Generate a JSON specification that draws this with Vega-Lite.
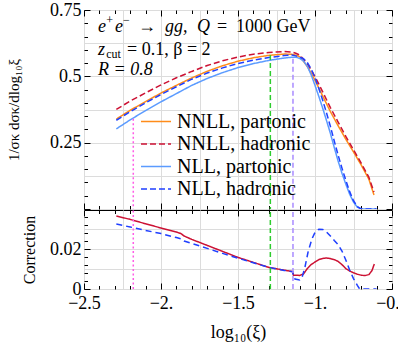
{
  "$schema": "https://vega.github.io/schema/vega-lite/v6.json",
  "padding": {"left": 6, "top": 0, "right": -11, "bottom": 0},
  "spacing": 1,
  "bounds": "flush",
  "config": {
    "font": "Liberation Serif",
    "view": {"stroke": "black", "strokeWidth": 1},
    "axis": {"labelFont": "Liberation Serif", "titleFont": "Liberation Serif", "labelColor": "black", "titleColor": "black", "titleFontWeight": "normal", "tickColor": "black", "tickWidth": 1, "labelOverlap": false, "labelFlush": false}
  },
  "datasets": {
    "top": [
      {"x": -2.29, "y": 0.339, "series": "NNLL, partonic"}, {"x": -2.2, "y": 0.372, "series": "NNLL, partonic"}, {"x": -2.1, "y": 0.405, "series": "NNLL, partonic"}, {"x": -2.0, "y": 0.437, "series": "NNLL, partonic"}, {"x": -1.9, "y": 0.466, "series": "NNLL, partonic"}, {"x": -1.8, "y": 0.494, "series": "NNLL, partonic"}, {"x": -1.7, "y": 0.519, "series": "NNLL, partonic"}, {"x": -1.6, "y": 0.54, "series": "NNLL, partonic"}, {"x": -1.5, "y": 0.557, "series": "NNLL, partonic"}, {"x": -1.4, "y": 0.57, "series": "NNLL, partonic"}, {"x": -1.3, "y": 0.579, "series": "NNLL, partonic"}, {"x": -1.2, "y": 0.584, "series": "NNLL, partonic"}, {"x": -1.15, "y": 0.583, "series": "NNLL, partonic"}, {"x": -1.125, "y": 0.58, "series": "NNLL, partonic"}, {"x": -1.1, "y": 0.574, "series": "NNLL, partonic"}, {"x": -1.075, "y": 0.557, "series": "NNLL, partonic"}, {"x": -1.05, "y": 0.537, "series": "NNLL, partonic"}, {"x": -1.025, "y": 0.512, "series": "NNLL, partonic"}, {"x": -1.0, "y": 0.485, "series": "NNLL, partonic"}, {"x": -0.975, "y": 0.456, "series": "NNLL, partonic"}, {"x": -0.95, "y": 0.426, "series": "NNLL, partonic"}, {"x": -0.9, "y": 0.367, "series": "NNLL, partonic"}, {"x": -0.85, "y": 0.314, "series": "NNLL, partonic"}, {"x": -0.8, "y": 0.263, "series": "NNLL, partonic"}, {"x": -0.75, "y": 0.215, "series": "NNLL, partonic"}, {"x": -0.7, "y": 0.166, "series": "NNLL, partonic"}, {"x": -0.65, "y": 0.112, "series": "NNLL, partonic"}, {"x": -0.617, "y": 0.053, "series": "NNLL, partonic"},
      {"x": -2.29, "y": 0.3755, "series": "NNLL, hadronic"}, {"x": -2.2, "y": 0.4068, "series": "NNLL, hadronic"}, {"x": -2.1, "y": 0.4376, "series": "NNLL, hadronic"}, {"x": -2.0, "y": 0.4675, "series": "NNLL, hadronic"}, {"x": -1.9, "y": 0.4945, "series": "NNLL, hadronic"}, {"x": -1.8, "y": 0.5185, "series": "NNLL, hadronic"}, {"x": -1.7, "y": 0.5408, "series": "NNLL, hadronic"}, {"x": -1.6, "y": 0.5588, "series": "NNLL, hadronic"}, {"x": -1.5, "y": 0.5728, "series": "NNLL, hadronic"}, {"x": -1.4, "y": 0.5833, "series": "NNLL, hadronic"}, {"x": -1.3, "y": 0.5898, "series": "NNLL, hadronic"}, {"x": -1.2, "y": 0.5934, "series": "NNLL, hadronic"}, {"x": -1.15, "y": 0.5917, "series": "NNLL, hadronic"}, {"x": -1.125, "y": 0.5868, "series": "NNLL, hadronic"}, {"x": -1.1, "y": 0.5808, "series": "NNLL, hadronic"}, {"x": -1.075, "y": 0.5645, "series": "NNLL, hadronic"}, {"x": -1.05, "y": 0.5475, "series": "NNLL, hadronic"}, {"x": -1.025, "y": 0.524, "series": "NNLL, hadronic"}, {"x": -1.0, "y": 0.4988, "series": "NNLL, hadronic"}, {"x": -0.975, "y": 0.4708, "series": "NNLL, hadronic"}, {"x": -0.95, "y": 0.4413, "series": "NNLL, hadronic"}, {"x": -0.9, "y": 0.3822, "series": "NNLL, hadronic"}, {"x": -0.85, "y": 0.3278, "series": "NNLL, hadronic"}, {"x": -0.8, "y": 0.2735, "series": "NNLL, hadronic"}, {"x": -0.75, "y": 0.2233, "series": "NNLL, hadronic"}, {"x": -0.7, "y": 0.1728, "series": "NNLL, hadronic"}, {"x": -0.65, "y": 0.1192, "series": "NNLL, hadronic"}, {"x": -0.617, "y": 0.064, "series": "NNLL, hadronic"},
      {"x": -2.29, "y": 0.302, "series": "NLL, partonic"}, {"x": -2.2, "y": 0.336, "series": "NLL, partonic"}, {"x": -2.1, "y": 0.371, "series": "NLL, partonic"}, {"x": -2.0, "y": 0.404, "series": "NLL, partonic"}, {"x": -1.9, "y": 0.435, "series": "NLL, partonic"}, {"x": -1.8, "y": 0.466, "series": "NLL, partonic"}, {"x": -1.7, "y": 0.492, "series": "NLL, partonic"}, {"x": -1.6, "y": 0.514, "series": "NLL, partonic"}, {"x": -1.5, "y": 0.533, "series": "NLL, partonic"}, {"x": -1.4, "y": 0.548, "series": "NLL, partonic"}, {"x": -1.3, "y": 0.56, "series": "NLL, partonic"}, {"x": -1.2, "y": 0.569, "series": "NLL, partonic"}, {"x": -1.15, "y": 0.572, "series": "NLL, partonic"}, {"x": -1.125, "y": 0.572, "series": "NLL, partonic"}, {"x": -1.1, "y": 0.568, "series": "NLL, partonic"}, {"x": -1.075, "y": 0.558, "series": "NLL, partonic"}, {"x": -1.05, "y": 0.538, "series": "NLL, partonic"}, {"x": -1.025, "y": 0.506, "series": "NLL, partonic"}, {"x": -1.0, "y": 0.466, "series": "NLL, partonic"}, {"x": -0.975, "y": 0.424, "series": "NLL, partonic"}, {"x": -0.95, "y": 0.38, "series": "NLL, partonic"}, {"x": -0.925, "y": 0.333, "series": "NLL, partonic"}, {"x": -0.9, "y": 0.285, "series": "NLL, partonic"}, {"x": -0.875, "y": 0.232, "series": "NLL, partonic"}, {"x": -0.85, "y": 0.181, "series": "NLL, partonic"}, {"x": -0.825, "y": 0.135, "series": "NLL, partonic"}, {"x": -0.8, "y": 0.094, "series": "NLL, partonic"}, {"x": -0.775, "y": 0.056, "series": "NLL, partonic"}, {"x": -0.75, "y": 0.026, "series": "NLL, partonic"}, {"x": -0.725, "y": 0.007, "series": "NLL, partonic"}, {"x": -0.7, "y": 0.0, "series": "NLL, partonic"}, {"x": -0.65, "y": 0.0, "series": "NLL, partonic"}, {"x": -0.6, "y": 0.0, "series": "NLL, partonic"},
      {"x": -2.29, "y": 0.3345, "series": "NLL, hadronic"}, {"x": -2.2, "y": 0.367, "series": "NLL, hadronic"}, {"x": -2.1, "y": 0.4003, "series": "NLL, hadronic"}, {"x": -2.0, "y": 0.4317, "series": "NLL, hadronic"}, {"x": -1.9, "y": 0.4607, "series": "NLL, hadronic"}, {"x": -1.8, "y": 0.4892, "series": "NLL, hadronic"}, {"x": -1.7, "y": 0.5125, "series": "NLL, hadronic"}, {"x": -1.6, "y": 0.532, "series": "NLL, hadronic"}, {"x": -1.5, "y": 0.5485, "series": "NLL, hadronic"}, {"x": -1.4, "y": 0.5611, "series": "NLL, hadronic"}, {"x": -1.3, "y": 0.5708, "series": "NLL, hadronic"}, {"x": -1.2, "y": 0.5783, "series": "NLL, hadronic"}, {"x": -1.15, "y": 0.5807, "series": "NLL, hadronic"}, {"x": -1.125, "y": 0.5772, "series": "NLL, hadronic"}, {"x": -1.1, "y": 0.5725, "series": "NLL, hadronic"}, {"x": -1.075, "y": 0.5665, "series": "NLL, hadronic"}, {"x": -1.05, "y": 0.552, "series": "NLL, hadronic"}, {"x": -1.025, "y": 0.528, "series": "NLL, hadronic"}, {"x": -1.0, "y": 0.4943, "series": "NLL, hadronic"}, {"x": -0.975, "y": 0.4539, "series": "NLL, hadronic"}, {"x": -0.95, "y": 0.4098, "series": "NLL, hadronic"}, {"x": -0.925, "y": 0.3615, "series": "NLL, hadronic"}, {"x": -0.9, "y": 0.3115, "series": "NLL, hadronic"}, {"x": -0.875, "y": 0.2563, "series": "NLL, hadronic"}, {"x": -0.85, "y": 0.2032, "series": "NLL, hadronic"}, {"x": -0.825, "y": 0.154, "series": "NLL, hadronic"}, {"x": -0.8, "y": 0.1085, "series": "NLL, hadronic"}, {"x": -0.775, "y": 0.0655, "series": "NLL, hadronic"}, {"x": -0.75, "y": 0.0312, "series": "NLL, hadronic"}, {"x": -0.725, "y": 0.0088, "series": "NLL, hadronic"}, {"x": -0.7, "y": 0.0, "series": "NLL, hadronic"}, {"x": -0.6, "y": 0.0, "series": "NLL, hadronic"}
    ],
    "corr": [
      {"x": -2.29, "y": 0.0365, "series": "NNLL"}, {"x": -2.2, "y": 0.0348, "series": "NNLL"}, {"x": -2.1, "y": 0.0326, "series": "NNLL"}, {"x": -2.0, "y": 0.0305, "series": "NNLL"}, {"x": -1.9, "y": 0.0285, "series": "NNLL"}, {"x": -1.87, "y": 0.0277, "series": "NNLL"}, {"x": -1.85, "y": 0.0265, "series": "NNLL"}, {"x": -1.8, "y": 0.0248, "series": "NNLL"}, {"x": -1.7, "y": 0.0218, "series": "NNLL"}, {"x": -1.6, "y": 0.0188, "series": "NNLL"}, {"x": -1.5, "y": 0.0158, "series": "NNLL"}, {"x": -1.4, "y": 0.0133, "series": "NNLL"}, {"x": -1.3, "y": 0.0108, "series": "NNLL"}, {"x": -1.2, "y": 0.0094, "series": "NNLL"}, {"x": -1.145, "y": 0.0087, "series": "NNLL"}, {"x": -1.14, "y": 0.0069, "series": "NNLL"}, {"x": -1.1, "y": 0.0068, "series": "NNLL"}, {"x": -1.075, "y": 0.0075, "series": "NNLL"}, {"x": -1.05, "y": 0.0102, "series": "NNLL"}, {"x": -1.025, "y": 0.0122, "series": "NNLL"}, {"x": -1.0, "y": 0.0135, "series": "NNLL"}, {"x": -0.975, "y": 0.0147, "series": "NNLL"}, {"x": -0.95, "y": 0.0153, "series": "NNLL"}, {"x": -0.925, "y": 0.0155, "series": "NNLL"}, {"x": -0.9, "y": 0.0152, "series": "NNLL"}, {"x": -0.875, "y": 0.0147, "series": "NNLL"}, {"x": -0.85, "y": 0.0138, "series": "NNLL"}, {"x": -0.825, "y": 0.0122, "series": "NNLL"}, {"x": -0.8, "y": 0.0102, "series": "NNLL"}, {"x": -0.775, "y": 0.009, "series": "NNLL"}, {"x": -0.75, "y": 0.0081, "series": "NNLL"}, {"x": -0.725, "y": 0.0074, "series": "NNLL"}, {"x": -0.7, "y": 0.0069, "series": "NNLL"}, {"x": -0.675, "y": 0.0067, "series": "NNLL"}, {"x": -0.65, "y": 0.0072, "series": "NNLL"}, {"x": -0.63, "y": 0.0092, "series": "NNLL"}, {"x": -0.615, "y": 0.0125, "series": "NNLL"},
      {"x": -2.29, "y": 0.0325, "series": "NLL"}, {"x": -2.2, "y": 0.031, "series": "NLL"}, {"x": -2.1, "y": 0.0293, "series": "NLL"}, {"x": -2.0, "y": 0.0277, "series": "NLL"}, {"x": -1.9, "y": 0.0257, "series": "NLL"}, {"x": -1.87, "y": 0.0251, "series": "NLL"}, {"x": -1.85, "y": 0.024, "series": "NLL"}, {"x": -1.8, "y": 0.0228, "series": "NLL"}, {"x": -1.7, "y": 0.0203, "series": "NLL"}, {"x": -1.6, "y": 0.0178, "series": "NLL"}, {"x": -1.5, "y": 0.0154, "series": "NLL"}, {"x": -1.4, "y": 0.0131, "series": "NLL"}, {"x": -1.3, "y": 0.0108, "series": "NLL"}, {"x": -1.2, "y": 0.0093, "series": "NLL"}, {"x": -1.145, "y": 0.0086, "series": "NLL"}, {"x": -1.14, "y": 0.0062, "series": "NLL"}, {"x": -1.13, "y": 0.005, "series": "NLL"}, {"x": -1.1, "y": 0.0045, "series": "NLL"}, {"x": -1.085, "y": 0.0055, "series": "NLL"}, {"x": -1.065, "y": 0.011, "series": "NLL"}, {"x": -1.045, "y": 0.0185, "series": "NLL"}, {"x": -1.02, "y": 0.025, "series": "NLL"}, {"x": -1.0, "y": 0.0283, "series": "NLL"}, {"x": -0.975, "y": 0.0299, "series": "NLL"}, {"x": -0.95, "y": 0.0298, "series": "NLL"}, {"x": -0.925, "y": 0.0285, "series": "NLL"}, {"x": -0.9, "y": 0.0265, "series": "NLL"}, {"x": -0.875, "y": 0.0243, "series": "NLL"}, {"x": -0.85, "y": 0.0222, "series": "NLL"}, {"x": -0.825, "y": 0.019, "series": "NLL"}, {"x": -0.8, "y": 0.0145, "series": "NLL"}, {"x": -0.775, "y": 0.0095, "series": "NLL"}, {"x": -0.75, "y": 0.0052, "series": "NLL"}, {"x": -0.725, "y": 0.0018, "series": "NLL"}, {"x": -0.71, "y": 0.0, "series": "NLL"}, {"x": -0.6, "y": 0.0, "series": "NLL"}
    ],
    "rules": [
      {"x": -2.18, "top": 0.34, "name": "pink"},
      {"x": -1.29, "top": 0.58, "name": "green"},
      {"x": -1.143, "top": 0.566, "name": "purple"}
    ],
    "notes": [
      {"x": -2.409, "y": 0.667, "text": "e"},
      {"x": -2.299, "y": 0.667, "text": "e"},
      {"x": -1.974, "y": 0.667, "text": "gg,"},
      {"x": -1.766, "y": 0.667, "text": "Q"},
      {"x": -2.409, "y": 0.581, "text": "z"},
      {"x": -2.409, "y": 0.505, "text": "R = 0.8"}
    ],
    "upright": [
      {"x": -2.149, "y": 0.667, "text": "→"},
      {"x": -1.636, "y": 0.667, "text": "="},
      {"x": -1.513, "y": 0.667, "text": "1000 GeV"},
      {"x": -2.22, "y": 0.581, "text": "= 0.1, β = 2"}
    ],
    "subs": [
      {"x": -2.356, "y": 0.697, "text": "+"},
      {"x": -2.246, "y": 0.697, "text": "−"},
      {"x": -2.356, "y": 0.57, "text": "cut"}
    ]
  },
  "vconcat": [
    {
      "width": 308,
      "height": 199,
      "layer": [
        {
          "data": {"name": "top"},
          "mark": {"type": "line", "strokeWidth": 1.5, "clip": true},
          "encoding": {
            "x": {"field": "x", "type": "quantitative", "scale": {"domain": [-2.5, -0.5], "nice": false, "zero": false},
              "axis": {"orient": "bottom", "title": null, "domain": false, "labels": false,
                "values": [-2.5,-2.4,-2.3,-2.25,-2.2,-2.1,-2,-1.9,-1.8,-1.75,-1.7,-1.6,-1.5,-1.4,-1.3,-1.25,-1.2,-1.1,-1,-0.9,-0.8,-0.75,-0.7,-0.6,-0.5],
                "grid": true, "gridColor": "#dcdcdc",
                "gridOpacity": {"condition": {"test": "abs(datum.value*4-round(datum.value*4))<0.001", "value": 1}, "value": 0},
                "tickOpacity": {"condition": {"test": "abs(datum.value*10-round(datum.value*10))<0.001", "value": 1}, "value": 0},
                "tickSize": {"condition": {"test": "abs(datum.value*2-round(datum.value*2))<0.001", "value": -6}, "value": -3.5}}},
            "y": {"field": "y", "type": "quantitative", "scale": {"domain": [0, 0.75], "nice": false, "zero": false},
              "axis": {"orient": "left", "domain": false, "title": "1/σκ dσκ/dlog₁₀ξ", "titleFontSize": 15, "titlePadding": 28,
                "values": [0,0.05,0.1,0.125,0.15,0.2,0.25,0.3,0.35,0.375,0.4,0.45,0.5,0.55,0.6,0.625,0.65,0.7,0.75],
                "grid": true, "gridColor": "#dcdcdc",
                "gridOpacity": {"condition": {"test": "abs(datum.value*8-round(datum.value*8))<0.001", "value": 1}, "value": 0},
                "tickOpacity": {"condition": {"test": "abs(datum.value*20-round(datum.value*20))<0.001", "value": 1}, "value": 0},
                "tickSize": {"condition": {"test": "abs(datum.value*4-round(datum.value*4))<0.001", "value": -6}, "value": -3.5},
                "labelExpr": "abs(datum.value-0.25)<0.001 ? '0.25' : abs(datum.value-0.5)<0.001 ? '0.5' : abs(datum.value-0.75)<0.001 ? '0.75' : ''",
                "labelFontSize": 18, "labelPadding": 9}},
            "color": {"field": "series", "type": "nominal",
              "scale": {"domain": ["NNLL, partonic", "NNLL, hadronic", "NLL, partonic", "NLL, hadronic"], "range": ["#ff8c1a", "#cc1133", "#5b9bff", "#1f3fff"]},
              "legend": {"orient": "none", "legendX": 56, "legendY": 103, "title": null, "padding": 0, "symbolType": "stroke", "symbolSize": 900, "symbolStrokeWidth": 1.5, "clipHeight": 17, "rowPadding": 1.5, "labelOffset": 5, "labelFont": "Liberation Serif", "labelFontSize": 20, "labelColor": "black",
                "encode": {"symbols": {"update": {"strokeDash": {"signal": "indexof(datum.value, 'hadronic') >= 0 ? [6, 3] : [1, 0]"}}}}}},
            "strokeDash": {"field": "series", "type": "nominal",
              "scale": {"domain": ["NNLL, partonic", "NNLL, hadronic", "NLL, partonic", "NLL, hadronic"], "range": [[1, 0], [6, 3], [1, 0], [6, 3]]},
              "legend": null}
          }
        },
        {
          "data": {"name": "rules"},
          "mark": {"type": "rule", "strokeWidth": 1.5},
          "encoding": {
            "x": {"field": "x", "type": "quantitative",
              "axis": {"orient": "top", "title": null, "domain": false, "labels": false, "grid": false,
                "values": [-2.5,-2.4,-2.3,-2.2,-2.1,-2,-1.9,-1.8,-1.7,-1.6,-1.5,-1.4,-1.3,-1.2,-1.1,-1,-0.9,-0.8,-0.7,-0.6,-0.5],
                "tickSize": {"condition": {"test": "abs(datum.value*2-round(datum.value*2))<0.001", "value": -6}, "value": -3.5}}},
            "y": {"field": "top", "type": "quantitative",
              "axis": {"orient": "right", "title": null, "domain": false, "labels": false, "grid": false,
                "values": [0,0.05,0.1,0.15,0.2,0.25,0.3,0.35,0.4,0.45,0.5,0.55,0.6,0.65,0.7,0.75],
                "tickSize": {"condition": {"test": "abs(datum.value*4-round(datum.value*4))<0.001", "value": -6}, "value": -3.5}}},
            "y2": {"datum": 0},
            "stroke": {"field": "name", "type": "nominal", "scale": {"domain": ["pink", "green", "purple"], "range": ["#ff5ce6", "#2ecc2e", "#a98bff"]}, "legend": null},
            "strokeDash": {"field": "name", "type": "nominal", "scale": {"domain": ["pink", "green", "purple"], "range": [[2, 2.5], [5, 3], [5, 3]]}, "legend": null}
          }
        },
        {
          "data": {"name": "notes"},
          "mark": {"type": "text", "font": "Liberation Serif", "fontStyle": "italic", "fontSize": 18, "align": "left", "baseline": "alphabetic", "color": "black"},
          "encoding": {
            "x": {"field": "x", "type": "quantitative", "axis": null},
            "y": {"field": "y", "type": "quantitative", "axis": null},
            "text": {"field": "text"}
          }
        },
        {
          "data": {"name": "upright"},
          "mark": {"type": "text", "font": "Liberation Serif", "fontSize": 18, "align": "left", "baseline": "alphabetic", "color": "black"},
          "encoding": {
            "x": {"field": "x", "type": "quantitative", "axis": null},
            "y": {"field": "y", "type": "quantitative", "axis": null},
            "text": {"field": "text"}
          }
        },
        {
          "data": {"name": "subs"},
          "mark": {"type": "text", "font": "Liberation Serif", "fontSize": 12, "align": "left", "baseline": "alphabetic", "color": "black"},
          "encoding": {
            "x": {"field": "x", "type": "quantitative", "axis": null},
            "y": {"field": "y", "type": "quantitative", "axis": null},
            "text": {"field": "text"}
          }
        }
      ],
      "resolve": {"axis": {"x": "independent", "y": "independent"}, "scale": {"strokeDash": "independent"}}
    },
    {
      "width": 308,
      "height": 79,
      "layer": [
        {
          "data": {"name": "corr"},
          "mark": {"type": "line", "strokeWidth": 1.5, "clip": true},
          "encoding": {
            "x": {"field": "x", "type": "quantitative", "scale": {"domain": [-2.5, -0.5], "nice": false, "zero": false},
              "axis": {"orient": "bottom", "title": "log₁₀(ξ)", "titleFontSize": 18, "titlePadding": 9, "domain": false,
                "values": [-2.5,-2.4,-2.3,-2.25,-2.2,-2.1,-2,-1.9,-1.8,-1.75,-1.7,-1.6,-1.5,-1.4,-1.3,-1.25,-1.2,-1.1,-1,-0.9,-0.8,-0.75,-0.7,-0.6,-0.5],
                "grid": true, "gridColor": "#dcdcdc",
                "gridOpacity": {"condition": {"test": "abs(datum.value*4-round(datum.value*4))<0.001", "value": 1}, "value": 0},
                "tickOpacity": {"condition": {"test": "abs(datum.value*10-round(datum.value*10))<0.001", "value": 1}, "value": 0},
                "tickSize": {"condition": {"test": "abs(datum.value*2-round(datum.value*2))<0.001", "value": -6}, "value": -3.5},
                "labelExpr": "abs(datum.value+2.5)<0.001 ? '−2.5' : abs(datum.value+2)<0.001 ? '−2.' : abs(datum.value+1.5)<0.001 ? '−1.5' : abs(datum.value+1)<0.001 ? '−1.' : abs(datum.value+0.5)<0.001 ? '−0.5' : ''",
                "labelFontSize": 18, "labelPadding": 11}},
            "y": {"field": "y", "type": "quantitative", "scale": {"domain": [0, 0.0395], "nice": false, "zero": false},
              "axis": {"orient": "left", "domain": false, "title": "Correction", "titleFontSize": 16, "titlePadding": 12,
                "values": [0,0.004,0.008,0.01,0.012,0.016,0.02,0.024,0.028,0.03,0.032,0.036],
                "grid": true, "gridColor": "#dcdcdc",
                "gridOpacity": {"condition": {"test": "abs(datum.value*100-round(datum.value*100))<0.001", "value": 1}, "value": 0},
                "tickOpacity": {"condition": {"test": "abs(datum.value*250-round(datum.value*250))<0.001", "value": 1}, "value": 0},
                "tickSize": {"condition": {"test": "abs(datum.value*50-round(datum.value*50))<0.001", "value": -6}, "value": -3.5},
                "labelExpr": "abs(datum.value)<0.0001 ? '0' : abs(datum.value-0.02)<0.0001 ? '0.02' : ''",
                "labelFontSize": 18, "labelPadding": 9}},
            "color": {"field": "series", "type": "nominal", "scale": {"domain": ["NNLL", "NLL"], "range": ["#cc1133", "#1f3fff"]}, "legend": null},
            "strokeDash": {"field": "series", "type": "nominal", "scale": {"domain": ["NNLL", "NLL"], "range": [[1, 0], [6, 4]]}, "legend": null}
          }
        },
        {
          "data": {"name": "rules"},
          "mark": {"type": "rule", "strokeWidth": 1.5},
          "encoding": {
            "x": {"field": "x", "type": "quantitative",
              "axis": {"orient": "top", "title": null, "domain": false, "labels": false, "grid": false,
                "values": [-2.5,-2.4,-2.3,-2.2,-2.1,-2,-1.9,-1.8,-1.7,-1.6,-1.5,-1.4,-1.3,-1.2,-1.1,-1,-0.9,-0.8,-0.7,-0.6,-0.5],
                "tickSize": {"condition": {"test": "abs(datum.value*2-round(datum.value*2))<0.001", "value": -6}, "value": -3.5}}},
            "y": {"datum": 0, "type": "quantitative",
              "axis": {"orient": "right", "title": null, "domain": false, "labels": false, "grid": false,
                "values": [0,0.004,0.008,0.012,0.016,0.02,0.024,0.028,0.032,0.036],
                "tickSize": {"condition": {"test": "abs(datum.value*50-round(datum.value*50))<0.001", "value": -6}, "value": -3.5}}},
            "y2": {"datum": 0.0395},
            "stroke": {"field": "name", "type": "nominal", "scale": {"domain": ["pink", "green", "purple"], "range": ["#ff5ce6", "#2ecc2e", "#a98bff"]}, "legend": null},
            "strokeDash": {"field": "name", "type": "nominal", "scale": {"domain": ["pink", "green", "purple"], "range": [[2, 2.5], [5, 3], [5, 3]]}, "legend": null}
          }
        }
      ],
      "resolve": {"axis": {"x": "independent", "y": "independent"}, "scale": {"strokeDash": "independent"}}
    }
  ],
  "resolve": {"scale": {"color": "independent", "stroke": "independent", "strokeDash": "independent"}}
}
